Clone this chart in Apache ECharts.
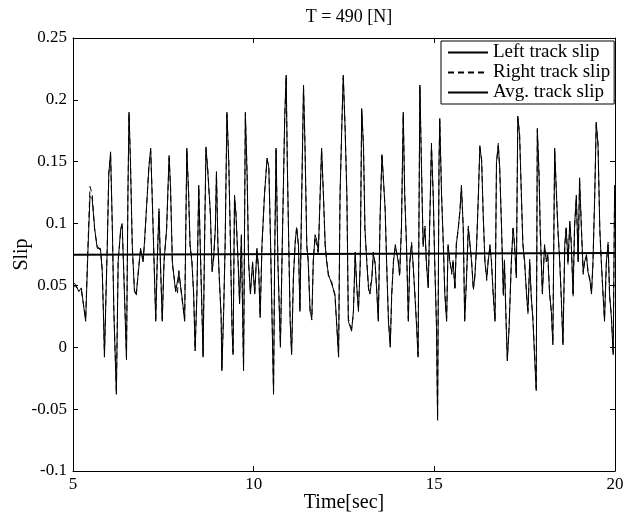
<!DOCTYPE html>
<html>
<head>
<meta charset="utf-8">
<script src="https://cdn.jsdelivr.net/npm/echarts@6/dist/echarts.min.js"></script>
<style>
html,body{margin:0;padding:0;background:#fff;}
#chart{width:643px;height:518px;}
</style>
</head>
<body>
<div id="chart"></div>
<script>
// ---- data ----
const timeSec = [
  5.00,5.07,5.16,5.23,5.35,5.41,5.47,5.53,5.60,5.67,
  5.76,5.81,5.85,5.87,5.95,5.99,6.04,6.09,6.13,6.20,
  6.25,6.32,6.36,6.41,6.48,6.52,6.55,6.59,6.64,6.70,
  6.75,6.82,6.87,6.94,6.98,7.10,7.15,7.19,7.29,7.33,
  7.38,7.42,7.47,7.52,7.59,7.66,7.70,7.75,7.84,7.89,
  7.93,8.02,8.09,8.15,8.20,8.24,8.29,8.34,8.38,8.43,
  8.48,8.52,8.57,8.60,8.64,8.68,8.73,8.80,8.85,8.89,
  8.94,8.97,9.01,9.05,9.10,9.12,9.17,9.21,9.26,9.31,
  9.35,9.40,9.43,9.47,9.51,9.57,9.61,9.66,9.72,9.77,
  9.82,9.86,9.91,9.97,10.03,10.09,10.14,10.18,10.23,10.30,
  10.37,10.42,10.46,10.51,10.55,10.58,10.62,10.67,10.74,10.80,
  10.86,10.90,10.93,10.96,11.01,11.05,11.10,11.15,11.19,11.24,
  11.28,11.33,11.38,11.42,11.47,11.51,11.56,11.61,11.65,11.70,
  11.75,11.79,11.84,11.88,11.93,11.98,12.02,12.07,12.16,12.25,
  12.35,12.39,12.44,12.48,12.53,12.58,12.62,12.67,12.71,12.76,
  12.81,12.85,12.90,12.95,12.99,13.04,13.08,13.13,13.18,13.22,
  13.27,13.31,13.36,13.41,13.45,13.50,13.55,13.59,13.64,13.68,
  13.73,13.78,13.82,13.87,13.92,14.00,14.04,14.09,14.14,14.18,
  14.23,14.28,14.32,14.37,14.41,14.46,14.51,14.55,14.60,14.65,
  14.69,14.74,14.78,14.83,14.88,14.92,14.97,15.01,15.06,15.09,
  15.13,15.15,15.20,15.25,15.29,15.34,15.38,15.43,15.48,15.52,
  15.57,15.61,15.66,15.71,15.75,15.80,15.84,15.89,15.94,15.98,
  16.03,16.08,16.12,16.17,16.22,16.26,16.31,16.35,16.40,16.45,
  16.49,16.54,16.58,16.63,16.68,16.72,16.77,16.81,16.86,16.91,
  16.94,16.99,17.02,17.07,17.13,17.18,17.22,17.27,17.31,17.36,
  17.41,17.45,17.50,17.55,17.59,17.64,17.68,17.73,17.78,17.82,
  17.85,17.90,17.93,17.99,18.05,18.10,18.14,18.19,18.24,18.28,
  18.33,18.38,18.42,18.47,18.51,18.56,18.61,18.65,18.70,18.75,
  18.79,18.84,18.88,18.93,18.98,19.02,19.07,19.12,19.16,19.21,
  19.25,19.30,19.35,19.39,19.44,19.48,19.53,19.58,19.62,19.67,
  19.71,19.76,19.81,19.85,19.90,19.95,19.99,20.00
];
const leftSlip = [
  0.052,0.051,0.045,0.048,0.021,0.075,0.122,0.120,0.096,0.080,
  0.080,0.061,0.018,-0.008,0.083,0.139,0.158,0.096,0.029,-0.038,
  0.069,0.096,0.100,0.056,-0.010,0.123,0.190,0.150,0.083,0.045,
  0.043,0.064,0.080,0.069,0.086,0.145,0.161,0.123,0.021,0.069,
  0.110,0.069,0.021,0.069,0.096,0.155,0.128,0.069,0.045,0.045,
  0.060,0.040,0.021,0.161,0.123,0.083,0.069,0.043,-0.003,0.043,
  0.131,0.083,0.029,-0.008,0.083,0.162,0.142,0.110,0.061,0.072,
  0.096,0.142,0.083,0.056,0.024,-0.019,0.029,0.083,0.190,0.150,
  0.096,0.016,-0.006,0.123,0.107,0.069,0.035,0.091,-0.019,0.190,
  0.137,0.069,0.043,0.069,0.043,0.080,0.061,0.024,0.083,0.123,
  0.153,0.145,0.096,0.021,-0.038,0.069,0.161,0.069,0.000,0.096,
  0.187,0.220,0.150,0.102,0.021,-0.006,0.056,0.086,0.096,0.083,
  0.029,0.123,0.212,0.163,0.083,0.069,0.029,0.024,0.069,0.091,
  0.086,0.077,0.123,0.161,0.123,0.083,0.069,0.059,0.051,0.043,
  -0.008,0.123,0.179,0.220,0.177,0.123,0.021,0.021,0.013,0.029,
  0.075,0.051,0.029,0.069,0.193,0.161,0.096,0.069,0.048,0.043,
  0.056,0.075,0.069,0.043,0.021,0.107,0.155,0.137,0.110,0.069,
  0.021,0.000,0.043,0.069,0.083,0.069,0.059,0.096,0.190,0.123,
  0.083,0.021,0.069,0.083,0.069,0.043,0.016,-0.008,0.212,0.137,
  0.083,0.096,0.069,0.048,0.110,0.163,0.123,0.069,0.016,-0.059,
  0.150,0.185,0.123,0.083,0.043,0.021,0.083,0.069,0.061,0.069,
  0.048,0.083,0.096,0.110,0.131,0.096,0.021,0.056,0.096,0.086,
  0.069,0.048,0.056,0.083,0.123,0.163,0.150,0.110,0.069,0.056,
  0.069,0.083,0.069,0.043,0.021,0.150,0.163,0.145,0.096,0.043,
  0.069,0.016,-0.011,0.016,0.069,0.096,0.083,0.056,0.187,0.171,
  0.123,0.083,0.069,0.043,0.029,0.069,0.043,0.021,-0.011,-0.035,
  0.177,0.137,0.096,0.043,0.083,0.069,0.075,0.043,0.029,0.002,
  0.161,0.123,0.096,0.069,0.043,0.002,0.083,0.096,0.069,0.102,
  0.083,0.043,0.096,0.123,0.069,0.137,0.096,0.061,0.069,0.075,
  0.061,0.056,0.043,0.069,0.123,0.182,0.163,0.096,0.069,0.043,
  0.021,0.069,0.083,0.043,0.024,-0.006,0.131,0.128
];
const rightSlip = [
  0.050,0.049,0.047,0.046,0.023,0.079,0.130,0.124,0.094,0.082,
  0.078,0.063,0.020,-0.006,0.085,0.141,0.155,0.094,0.031,-0.036,
  0.071,0.094,0.098,0.058,-0.008,0.125,0.188,0.152,0.081,0.047,
  0.041,0.066,0.078,0.071,0.084,0.147,0.159,0.125,0.023,0.067,
  0.112,0.067,0.023,0.071,0.094,0.153,0.130,0.067,0.047,0.043,
  0.062,0.038,0.023,0.159,0.125,0.081,0.071,0.041,-0.001,0.045,
  0.129,0.085,0.027,-0.006,0.081,0.160,0.144,0.108,0.063,0.070,
  0.098,0.140,0.085,0.054,0.026,-0.017,0.031,0.081,0.188,0.152,
  0.094,0.018,-0.004,0.121,0.109,0.067,0.037,0.089,-0.017,0.188,
  0.139,0.067,0.045,0.067,0.045,0.078,0.063,0.026,0.081,0.125,
  0.151,0.147,0.094,0.023,-0.036,0.071,0.159,0.071,0.002,0.094,
  0.185,0.218,0.152,0.100,0.023,-0.004,0.058,0.084,0.098,0.081,
  0.031,0.121,0.210,0.165,0.081,0.071,0.031,0.022,0.071,0.089,
  0.088,0.075,0.125,0.159,0.125,0.081,0.071,0.057,0.053,0.041,
  -0.006,0.121,0.181,0.218,0.179,0.121,0.023,0.019,0.015,0.027,
  0.077,0.049,0.031,0.067,0.191,0.163,0.094,0.071,0.046,0.045,
  0.054,0.077,0.067,0.045,0.023,0.105,0.157,0.135,0.112,0.067,
  0.023,0.002,0.041,0.071,0.081,0.071,0.057,0.098,0.188,0.125,
  0.081,0.023,0.067,0.085,0.067,0.045,0.018,-0.006,0.210,0.139,
  0.081,0.098,0.067,0.050,0.108,0.165,0.121,0.071,0.018,-0.057,
  0.148,0.183,0.125,0.081,0.045,0.023,0.081,0.071,0.059,0.071,
  0.046,0.085,0.094,0.112,0.129,0.098,0.023,0.054,0.098,0.084,
  0.071,0.046,0.058,0.081,0.125,0.161,0.152,0.108,0.071,0.054,
  0.071,0.081,0.071,0.041,0.023,0.148,0.165,0.143,0.098,0.041,
  0.071,0.018,-0.009,0.018,0.067,0.098,0.081,0.058,0.185,0.173,
  0.121,0.085,0.067,0.045,0.027,0.071,0.041,0.023,-0.009,-0.033,
  0.175,0.139,0.094,0.045,0.081,0.071,0.073,0.045,0.027,0.004,
  0.159,0.125,0.094,0.071,0.041,0.004,0.081,0.098,0.067,0.100,
  0.085,0.041,0.098,0.121,0.071,0.135,0.098,0.059,0.071,0.073,
  0.063,0.054,0.045,0.067,0.125,0.180,0.165,0.094,0.071,0.041,
  0.023,0.067,0.085,0.041,0.026,-0.004,0.129,0.130
];
const avgTime = [5, 20];
const avgSlip = [0.0748, 0.0763];
const xTicks = [5, 10, 15, 20];
const yTicks = [-0.1, -0.05, 0, 0.05, 0.1, 0.15, 0.2, 0.25];

// ---- chart ----
const FONT = "'Liberation Serif','Times New Roman',serif";
const zip = (xs, ys) => xs.map((x, i) => [x, ys[i]]);

const chart = echarts.init(document.getElementById('chart'), null, {renderer: 'canvas'});

const axisCommon = {
  axisLine: {show: true, onZero: false, lineStyle: {color: '#000', width: 1}},
  axisTick: {show: true, inside: true, length: 5, lineStyle: {color: '#000'}},
  splitLine: {show: false}
};

chart.setOption({
  animation: false,
  backgroundColor: '#fff',
  textStyle: {fontFamily: FONT, color: '#000'},
  title: {
    text: 'T = 490 [N]',
    left: 344, textAlign: 'center', top: 3,
    textStyle: {fontFamily: FONT, fontSize: 18, fontWeight: 'normal', color: '#000'}
  },
  grid: {left: 73, right: 28, top: 38, bottom: 47, containLabel: false, outerBoundsMode: 'none'},
  legend: {
    orient: 'vertical',
    left: 441, top: 41,
    itemWidth: 40, itemHeight: 10, itemGap: 1,
    padding: [2, 4, 2, 6],
    backgroundColor: '#fff',
    borderColor: '#000', borderWidth: 1, borderRadius: 0,
    itemStyle: {opacity: 0},
    textStyle: {fontFamily: FONT, fontSize: 19, color: '#000'},
    data: ['Left track slip', 'Right track slip', 'Avg. track slip']
  },
  xAxis: [
    Object.assign({
      type: 'value', min: 5, max: 20, interval: 5,
      name: 'Time[sec]', nameLocation: 'middle', nameGap: 22, nameMoveOverlap: false,
      nameTextStyle: {fontFamily: FONT, fontSize: 20, color: '#000'},
      axisLabel: {fontFamily: FONT, fontSize: 17, color: '#000', margin: 5}
    }, axisCommon),
    Object.assign({
      type: 'value', min: 5, max: 20, interval: 5, position: 'top',
      axisLabel: {show: false}
    }, axisCommon)
  ],
  yAxis: [
    Object.assign({
      type: 'value', min: -0.1, max: 0.25, interval: 0.05,
      name: 'Slip', nameLocation: 'middle', nameGap: 41, nameMoveOverlap: false,
      nameTextStyle: {fontFamily: FONT, fontSize: 20, color: '#000'},
      axisLabel: {fontFamily: FONT, fontSize: 17, color: '#000', margin: 6,
        formatter: v => String(Math.round(v * 100) / 100)}
    }, axisCommon),
    Object.assign({
      type: 'value', min: -0.1, max: 0.25, interval: 0.05, position: 'right',
      axisLabel: {show: false}
    }, axisCommon)
  ],
  series: [
    {
      name: 'Left track slip', type: 'line', xAxisIndex: 0, yAxisIndex: 0,
      data: zip(timeSec, leftSlip), symbol: 'none', showSymbol: false,
      lineStyle: {color: '#000', width: 1}, itemStyle: {color: '#000'}
    },
    {
      name: 'Right track slip', type: 'line', xAxisIndex: 0, yAxisIndex: 0,
      data: zip(timeSec, rightSlip), symbol: 'none', showSymbol: false,
      lineStyle: {color: '#000', width: 1, type: [6, 4]}, itemStyle: {color: '#000'}
    },
    {
      name: 'Avg. track slip', type: 'line', xAxisIndex: 0, yAxisIndex: 0,
      data: zip(avgTime, avgSlip), symbol: 'none', showSymbol: false,
      lineStyle: {color: '#000', width: 2}, itemStyle: {color: '#000'}, z: 5
    }
  ]
});
</script>
</body>
</html>
